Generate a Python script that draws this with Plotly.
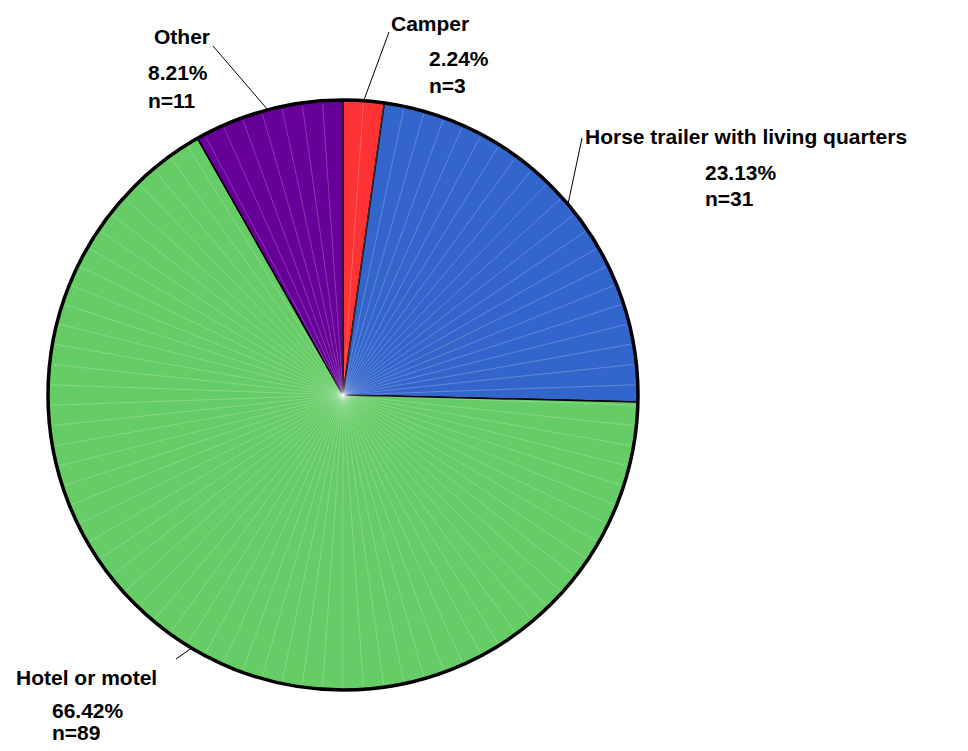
import math
import plotly.graph_objects as go

# Accommodation used while travelling with horses
labels = ["Camper", "Horse trailer with living quarters", "Hotel or motel", "Other"]
counts = [3, 31, 89, 11]
percents = ["2.24%", "23.13%", "66.42%", "8.21%"]
colors = ["#FF3333", "#3366CC", "#66CC66", "#660099"]

W, H = 968, 751
CX, CY, R = 343, 395, 295  # pie centre and radius in pixels


def px(x):
    return x / W


def py(y):
    return 1 - y / H


fig = go.Figure()
fig.add_trace(go.Pie(
    labels=labels,
    values=counts,
    sort=False,
    direction="clockwise",
    rotation=0,
    marker=dict(colors=colors, line=dict(color="black", width=1.5)),
    textinfo="none",
    hoverinfo="label+value+percent",
    showlegend=False,
    domain=dict(x=[px(CX - R), px(CX + R)], y=[py(CY + R), py(CY - R)]),
))

shapes = []

# faint radial shading strokes
for deg in range(0, 360, 4):
    a = math.radians(deg)
    shapes.append(dict(
        type="line", xref="paper", yref="paper",
        x0=px(CX), y0=py(CY),
        x1=px(CX + (R - 3) * math.sin(a)), y1=py(CY - (R - 3) * math.cos(a)),
        line=dict(color="rgba(255,255,255,0.22)", width=1),
    ))

# thick outer rim
shapes.append(dict(
    type="circle", xref="paper", yref="paper",
    x0=px(CX - R), x1=px(CX + R), y0=py(CY + R), y1=py(CY - R),
    line=dict(color="black", width=3.5),
))

# label blocks: (left x, centre y of each line) and leader-line end near the label
label_layout = [
    dict(x=389, x2=427, ys=[23, 58, 86], end=(389, 32)),
    dict(x=583, x2=703, ys=[136, 172, 199], end=(582, 138)),
    dict(x=14, x2=50, ys=[677, 710, 732], end=(176, 659)),
    dict(x=152, x2=146, ys=[37, 73, 100], end=(213, 46)),
]

total = sum(counts)
cum = 0
annotations = []
font = dict(family="Liberation Sans, Arial, sans-serif", size=21, color="black")
for lab, n, pct, lay in zip(labels, counts, percents, label_layout):
    mid = (cum + n / 2) / total * 2 * math.pi
    cum += n
    ex = CX + R * math.sin(mid)
    ey = CY - R * math.cos(mid)
    shapes.append(dict(
        type="line", xref="paper", yref="paper",
        x0=px(ex), y0=py(ey), x1=px(lay["end"][0]), y1=py(lay["end"][1]),
        line=dict(color="black", width=1),
    ))
    texts = [lab, pct, f"n={n}"]
    xs = [lay["x"], lay["x2"], lay["x2"]]
    for t, x, y in zip(texts, xs, lay["ys"]):
        annotations.append(dict(
            text=f"<b>{t}</b>", x=px(x), y=py(y), xref="paper", yref="paper",
            xanchor="left", yanchor="middle", showarrow=False, font=font,
        ))

fig.update_layout(
    width=W, height=H,
    margin=dict(l=0, r=0, t=0, b=0),
    paper_bgcolor="white", plot_bgcolor="white",
    shapes=shapes, annotations=annotations,
)

fig.write_html("out.html")
